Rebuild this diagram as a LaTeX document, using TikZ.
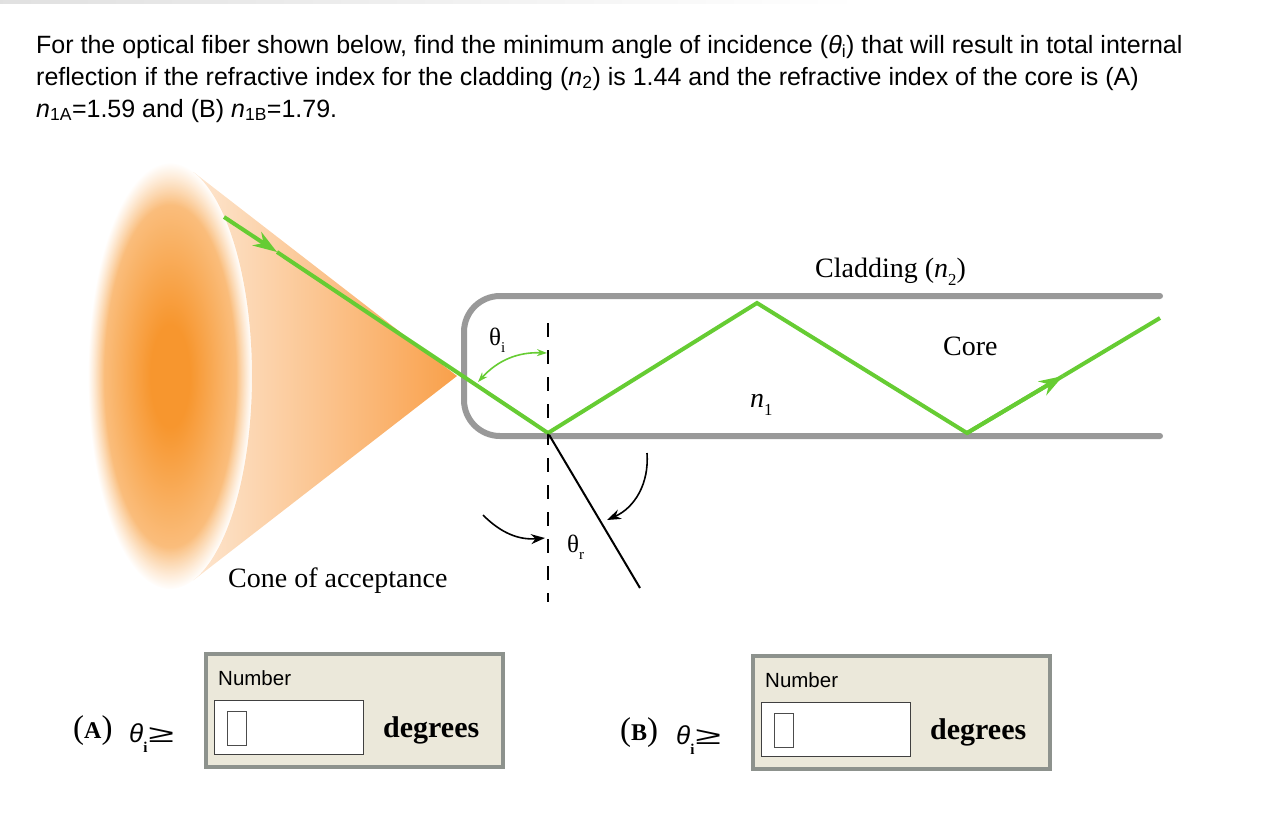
\documentclass[tikz,border=0pt]{standalone}
\usepackage{fontspec}
\setmainfont{Liberation Serif}
\newfontfamily\arial{Liberation Sans}
\usepackage{graphicx}
\usetikzlibrary{arrows.meta, positioning, fadings}

\definecolor{raygreen}{HTML}{66CC33}
\definecolor{fibergray}{HTML}{999999}
\definecolor{coneorange}{HTML}{F7962E}
\definecolor{conelight}{HTML}{FDE6D0}
\definecolor{conedeep}{HTML}{F9A04A}
\definecolor{boxbeige}{HTML}{EBE8DA}
\definecolor{boxframe}{HTML}{8D928D}

\pgfdeclareradialshading{conebase}{\pgfpoint{0bp}{0bp}}{color(0bp)=(coneorange); color(6bp)=(coneorange); color(25bp)=(coneorange!50!white); color(50bp)=(coneorange!50!white)}

% lowered small index
\newcommand{\dn}[1]{\raisebox{-0.3em}{\scalebox{0.6}{#1}}}

\begin{document}
\begin{tikzpicture}[x=1pt, y=-1pt,
    ray/.style={raygreen, line width=4pt},
    raytip/.style={-{Stealth[length=24pt, width=16pt]}},
    fiber/.style={fibergray, line width=6pt, line cap=round, rounded corners=36pt},
    normal/.style={black, line width=2pt, dash pattern=on 14pt off 13pt},
    angarrow/.style={black, line width=1.6pt, -{Stealth[length=14pt, width=10pt]}},
    angarc/.style={raygreen, line width=1.6pt, {Stealth[length=10pt, width=7pt]}-{Stealth[length=10pt, width=7pt]}},
    lbl/.style={font=\fontsize{28}{28}\selectfont, inner sep=0pt, anchor=base west},
    greek/.style={font=\fontsize{25}{25}\selectfont, inner sep=0pt, anchor=base west},
    question/.style={font=\arial\fontsize{25}{25}\selectfont, inner sep=0pt, anchor=base west},
    panel/.style={draw=boxframe, line width=4pt, fill=boxbeige, anchor=north west, inner sep=0pt, minimum width=297pt, minimum height=113pt},
    field/.style={draw=black!75, line width=1pt, fill=white, anchor=north west, inner sep=0pt, minimum width=149pt, minimum height=54pt},
    cursor/.style={draw=black!70, line width=0.8pt, anchor=north west, inner sep=0pt, minimum width=19pt, minimum height=34pt}]

  \useasboundingbox (0,0) rectangle (1276,828);
  \shade[left color=black!12, right color=white] (0,0) rectangle (860,3);

  % Question
  \node[question] (q1) at (36,53) {For the optical fiber shown below, find the minimum angle of incidence (\textit{θ}\textsubscript{i}) that will result in total internal};
  \node[question] (q2) at (36,85) {reflection if the refractive index for the cladding (\textit{n}\textsubscript{2}) is 1.44 and the refractive index of the core is (A)};
  \node[question] (q3) at (36,117) {\textit{n}\textsubscript{1A}=1.59 and (B) \textit{n}\textsubscript{1B}=1.79.};

  % Cone of acceptance
  \coordinate (apex) at (457,376);
  \shade[left color=conelight, right color=conedeep] (apex) -- (193.4,172) arc[start angle=-73.4, end angle=73.4, x radius=82, y radius=213] -- cycle;
  \shade[shading=conebase, path fading=circle with fuzzy edge 20 percent] (170,376) ellipse [x radius=82, y radius=213];

  % Fiber
  \draw[fiber] (1160,296) -- (464,296) -- (464,436) -- (1160,436);

  % Points of the ray
  \coordinate (src) at (224,217);
  \coordinate (arr1) at (277,252);
  \coordinate (hit1) at (548,433);
  \coordinate (top1) at (757,303);
  \coordinate (hit2) at (967,433);
  \coordinate (arr2) at (1063,376);
  \coordinate (out) at (1160,318);

  % Normal and refracted line
  \coordinate (ntop) at (548,323);
  \coordinate (nbot) at (548,602);
  \coordinate (refr) at (640,588);
  \draw[normal] (ntop) -- (nbot);
  \draw[black, line width=2pt] (hit1) -- (refr);

  % Ray
  \draw[ray, raytip] (src) -- (arr1);
  \draw[ray] (arr1) -- (hit1);
  \draw[ray] (hit1) -- (top1) -- (hit2) -- (arr2);
  \draw[ray, raytip] (hit2) -- (arr2);
  \draw[ray] (arr2) -- (out);

  % Angles
  \coordinate (ti1) at (478,382);
  \coordinate (ti2) at (547,353);
  \draw[angarc] (ti1) to[bend left=25] (ti2);
  \coordinate (ra1) at (647,453);
  \coordinate (ra2) at (607,520);
  \draw[angarrow] (ra1) to[bend left=35] (ra2);
  \coordinate (rb1) at (483,515);
  \coordinate (rb2) at (545,538);
  \draw[angarrow] (rb1) to[bend right=25] (rb2);

  % Labels
  \node[greek] (thi) at (489,345) {θ\dn{i}};
  \node[greek] (thr) at (567,552) {θ\dn{r}};
  \node[lbl] (clad) at (815,277) {Cladding (\textit{n}\dn{2})};
  \node[lbl] (core) at (943,355) {Core};
  \node[lbl] (n1) at (750,407) {\textit{n}\dn{1}};
  \node[lbl] (cone) at (228,587) {Cone of acceptance};

  % Answer panels
  \foreach \part/\px/\py in {A/202/650, B/749/652} {
    \node[panel] (box\part) at (\px+2,\py+2) {};
    \node[question, font=\arial\fontsize{20.5}{20.5}\selectfont] (num\part) at (\px+16,\py+35) {Number};
    \node[field] (field\part) at (\px+12,\py+50) {};
    \node[cursor] (cur\part) at (\px+25,\py+61) {};
    \node[lbl, font=\fontsize{30}{30}\selectfont\bfseries] (deg\part) at (\px+181,\py+87) {degrees};
    \node[lbl, font=\fontsize{24}{24}\selectfont] (tag\part) at (\px-129,\py+88) {{\fontsize{33}{33}\selectfont(}\textbf{\part}{\fontsize{33}{33}\selectfont)}};
    \node[lbl, font=\arial\fontsize{26}{26}\selectfont] (ge\part) at (\px-73,\py+92) {\textit{θ}\raisebox{-0.4em}{\fontsize{15}{15}\selectfont\rmfamily\bfseries i}\hspace{1pt}\scalebox{1.8}[0.95]{≥}};
  }
\end{tikzpicture}
\end{document}
